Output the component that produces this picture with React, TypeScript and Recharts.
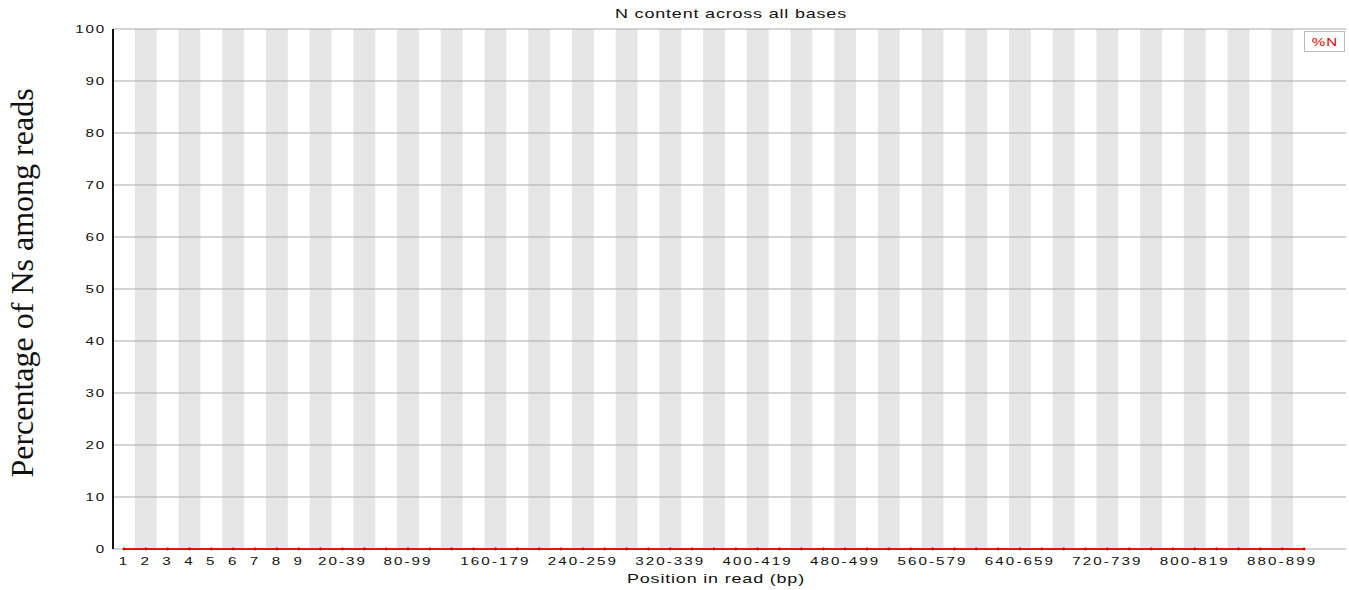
import React from 'react';
import { LineChart, Line, XAxis, YAxis, ReferenceArea, ReferenceLine } from 'recharts';

const categories: string[] = [
  '1', '2', '3', '4', '5', '6', '7', '8', '9', '10-19',
  '20-39', '40-59', '60-79', '80-99', '100-119', '120-139', '140-159', '160-179', '180-199', '200-219',
  '220-239', '240-259', '260-279', '280-299', '300-319', '320-339', '340-359', '360-379', '380-399', '400-419',
  '420-439', '440-459', '460-479', '480-499', '500-519', '520-539', '540-559', '560-579', '580-599', '600-619',
  '620-639', '640-659', '660-679', '680-699', '700-719', '720-739', '740-759', '760-779', '780-799', '800-819',
  '820-839', '840-859', '860-879', '880-899', '900-919',
];

const percentN: number[] = [
  0, 0, 0, 0, 0, 0, 0, 0, 0, 0,
  0, 0, 0, 0, 0, 0, 0, 0, 0, 0,
  0, 0, 0, 0, 0, 0, 0, 0, 0, 0,
  0, 0, 0, 0, 0, 0, 0, 0, 0, 0,
  0, 0, 0, 0, 0, 0, 0, 0, 0, 0,
  0, 0, 0, 0, 0,
];

const visibleTickLabels: string[] = [
  '1', '2', '3', '4', '5', '6', '7', '8', '9', '20-39', '80-99', '160-179', '240-259',
  '320-339', '400-419', '480-499', '560-579', '640-659', '720-739', '800-819', '880-899',
];

const yTicks: number[] = [0, 10, 20, 30, 40, 50, 60, 70, 80, 90, 100];

const data = categories.map((c, i) => ({ idx: i + 1, label: c, n: percentN[i] }));
const xTicks = visibleTickLabels.map((l) => categories.indexOf(l) + 1);
const bandIdx = data.filter((d) => d.idx % 2 === 0).map((d) => d.idx);

const SX = 1.38;
const FONT = '"Liberation Sans", Arial, sans-serif';

const XTick = (props: any) => {
  const { x, y, payload } = props;
  return (
    <g transform={`translate(${x},${y})`}>
      <text transform={`scale(${SX},1)`} textAnchor="middle" dy="0.71em" fontSize={11} letterSpacing={1.5} fontFamily={FONT} fill="#111">
        {categories[payload.value - 1]}
      </text>
    </g>
  );
};

const YTick = (props: any) => {
  const { x, y, payload } = props;
  return (
    <g transform={`translate(${x + 1},${y})`}>
      <text transform={`scale(${SX},1)`} textAnchor="end" dy="0.35em" fontSize={11} letterSpacing={1.3} fontFamily={FONT} fill="#111">
        {payload.value}
      </text>
    </g>
  );
};

export default function App() {
  return (
    <div style={{ position: 'absolute', left: 0, top: 0, width: 1349, height: 590, background: '#fff' }}>
      <LineChart width={1349} height={590} data={data} margin={{ top: 29, right: 3, bottom: 11, left: 13 }}>
        {bandIdx.map((i) => (
          <ReferenceArea key={'b' + i} x1={i - 0.5} x2={i + 0.5} y1={0} y2={100} fill="#e6e6e6" fillOpacity={1} stroke="none" />
        ))}
        {yTicks.map((t) => (
          <ReferenceLine key={'g' + t} y={t} stroke="#aaaaaa" strokeWidth={1} />
        ))}
        <XAxis
          dataKey="idx"
          type="number"
          domain={[0.5, 56.92]}
          ticks={xTicks}
          interval={0}
          height={30}
          axisLine={false}
          tickLine={false}
          tick={<XTick />}
          allowDataOverflow
        />
        <YAxis
          type="number"
          domain={[0, 100]}
          ticks={yTicks}
          interval={0}
          width={100}
          axisLine={{ stroke: '#111', strokeWidth: 2 }}
          tickLine={false}
          tick={<YTick />}
        />
        <Line
          dataKey="n"
          stroke="#ee1111"
          strokeWidth={2.2}
          dot={{ r: 1.4, fill: '#cc0000', stroke: 'none' }}
          isAnimationActive={false}
        />
      </LineChart>
      <div style={{ position: 'absolute', left: 731, top: 6, transform: `translateX(-50%) scaleX(${SX})`, fontFamily: FONT, fontSize: 13, letterSpacing: 0.6, color: '#111', whiteSpace: 'nowrap', lineHeight: '16px' }}>
        N content across all bases
      </div>
      <div style={{ position: 'absolute', left: 716, top: 571, transform: `translateX(-50%) scaleX(${SX})`, fontFamily: FONT, fontSize: 13, letterSpacing: 0.6, color: '#111', whiteSpace: 'nowrap', lineHeight: '16px' }}>
        Position in read (bp)
      </div>
      <div style={{ position: 'absolute', left: 22, top: 283, transform: 'translate(-50%,-50%) rotate(-90deg)', fontFamily: '"Liberation Serif", "Times New Roman", serif', fontSize: 32, color: '#111', whiteSpace: 'nowrap', lineHeight: '34px' }}>
        Percentage of Ns among reads
      </div>
      <div style={{ position: 'absolute', left: 1304, top: 31, width: 41, height: 21, border: '1px solid #bbb', background: '#fff', boxSizing: 'border-box' }}>
        <div style={{ position: 'absolute', left: 20, top: 3, transform: `translateX(-50%) scaleX(${SX})`, fontFamily: FONT, fontSize: 11, letterSpacing: 0.8, color: '#e00', whiteSpace: 'nowrap', lineHeight: '14px' }}>
          %N
        </div>
      </div>
    </div>
  );
}
